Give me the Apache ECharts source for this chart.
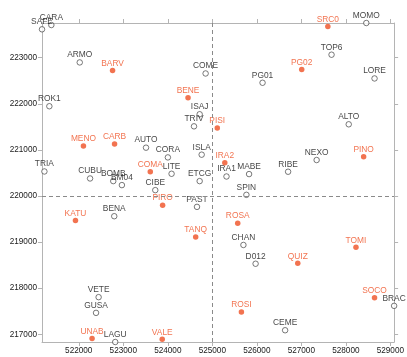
<!DOCTYPE html>
<html>
<head>
<meta charset="utf-8">
<script src="https://cdn.jsdelivr.net/npm/echarts@6/dist/echarts.min.js"></script>
<style>
  html, body { margin: 0; padding: 0; background: #fff; }
  #chart { width: 407px; height: 357px; }
</style>
</head>
<body>
<div id="chart"></div>
<script>
// Station coordinates (easting / northing)
const openNames = ['SAFE','CARA','ARMO','ROK1','COME','PG01','ISAJ','MOMO','TOP6','LORE','ALTO','NEXO','RIBE',
  'TRIA','CUBU','BOMB','BM04','BENA','TRIV','AUTO','CORA','ISLA','LITE','MABE','IRA1','ETCG','CIBE','SPIN','PAST',
  'CHAN','D012','VETE','GUSA','LAGU','BRAC','CEME'];
const openX = [521174,521384,522022,521339,524850,526129,524716,528460,527679,528645,528065,527344,526703,
  521228,522254,522775,522969,522797,524589,523511,524002,524761,524085,525826,525319,524716,523719,525766,524656,
  525699,525973,522446,522388,522819,529085,526636];
const openY = [223616,223709,222898,221947,222658,222456,221773,223753,223065,222550,221555,220780,220526,
  220532,220380,220323,220236,219561,221511,221048,220837,220896,220482,220475,220423,220323,220127,220025,219764,
  218937,218530,217805,217464,216832,217616,217087];

const redNames = ['BARV','BENE','SRC0','PG02','PINO','MENO','CARB','KATU','PISI','IRA2','COMA','PIRO','ROSA',
  'TANQ','ROSI','VALE','UNAB','TOMI','QUIZ','SOCO'];
const redX = [522759,524455,527596,527009,528400,522105,522804,521926,525112,525281,523607,523884,525571,
  524627,525654,523875,522299,528228,526920,528645];
const redY = [222724,222129,223675,222745,220852,221085,221128,219466,221477,220721,220526,219801,219409,
  219111,217485,216891,216906,218887,218539,217790];

// Tick positions and reference lines
const xTicks = [522000,523000,524000,525000,526000,527000,528000,529000];
const yTicks = [217000,218000,219000,220000,221000,222000,223000];
const xRef = 525000;
const yRef = 220000;

const allX = openX.concat(redX);
const allY = openY.concat(redY);
const xMin = Math.min(...allX), xMax = Math.max(...allX);
const yMin = Math.min(...allY), yMax = Math.max(...allY);

const FONT = 'Liberation Sans, Arial, sans-serif';
const RED = '#ef5024';
const AXIS = '#b4b4b4';

function pts(names, xs, ys) {
  return names.map((n, i) => ({ name: n, value: [xs[i], ys[i]] }));
}

function axisDef(pos, ticks, lo, hi, showLabels) {
  return {
    type: 'value', position: pos, min: lo, max: hi, scale: true,
    axisLine: { show: true, lineStyle: { color: AXIS, width: 1 } },
    axisTick: { show: true, inside: false, length: 4, customValues: ticks, lineStyle: { color: AXIS } },
    axisLabel: {
      show: showLabels, customValues: ticks, fontSize: 8.2, fontFamily: FONT, color: '#1a1a1a',
      margin: 5,
      formatter: v => String(v)
    },
    splitLine: { show: false }
  };
}

const chart = echarts.init(document.getElementById('chart'), null, { renderer: 'canvas' });
chart.setOption({
  animation: false,
  backgroundColor: '#fff',
  grid: { left: 42, right: 10, top: 23, bottom: 15, containLabel: false },
  xAxis: [
    axisDef('bottom', xTicks, xMin, xMax, true),
    axisDef('top', xTicks, xMin, xMax, false)
  ],
  yAxis: [
    axisDef('left', yTicks, yMin, yMax, true),
    axisDef('right', yTicks, yMin, yMax, false)
  ],
  series: [
    {
      type: 'scatter', name: 'open',
      data: pts(openNames, openX, openY),
      symbol: 'circle', symbolSize: 5.5,
      itemStyle: { color: '#fff', borderColor: '#444', borderWidth: 0.9 },
      label: { show: true, position: 'top', distance: 0.3, formatter: '{b}',
        fontSize: 8.4, fontFamily: FONT, color: '#111' },
      markLine: {
        silent: true, symbol: 'none', animation: false,
        label: { show: false },
        lineStyle: { color: '#8a8a8a', type: [4, 3], width: 1 },
        data: [{ xAxis: xRef }, { yAxis: yRef }]
      },
      z: 3
    },
    {
      type: 'scatter', name: 'filled',
      data: pts(redNames, redX, redY),
      symbol: 'circle', symbolSize: 5.5,
      itemStyle: { color: RED, borderWidth: 0 },
      label: { show: true, position: 'top', distance: 0.3, formatter: '{b}',
        fontSize: 8.4, fontFamily: FONT, color: RED },
      z: 4
    }
  ]
});
</script>
</body>
</html>
